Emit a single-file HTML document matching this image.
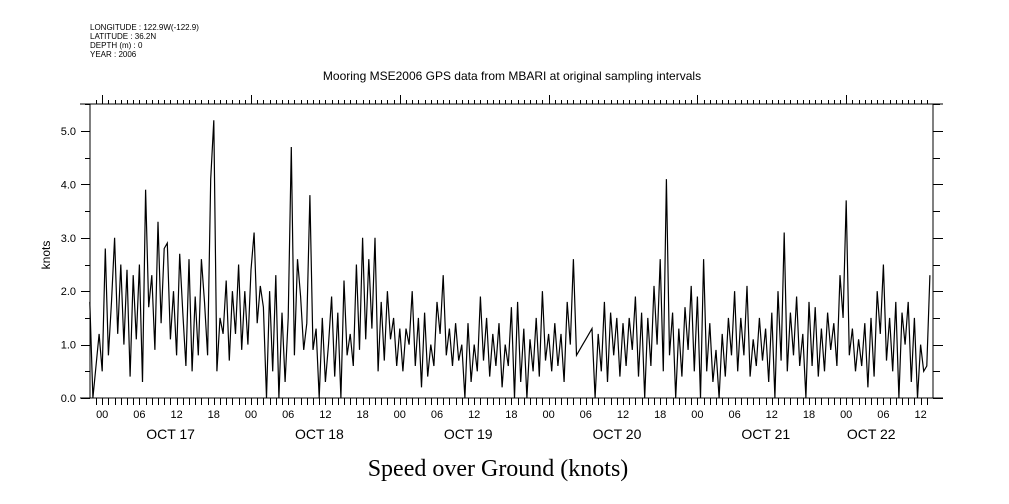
<!DOCTYPE html>
<html><head><meta charset="utf-8"><style>
body{margin:0;background:#fff;}
svg{display:block;font-family:"Liberation Sans",sans-serif;}
</style></head><body>
<svg id="chart" width="1009" height="504" viewBox="0 0 1009 504" xmlns="http://www.w3.org/2000/svg">
<rect width="1009" height="504" fill="#fff"/>
<g font-size="8" fill="#000">
<text x="90" y="30">LONGITUDE : 122.9W(-122.9)</text>
<text x="90" y="39">LATITUDE : 36.2N</text>
<text x="90" y="48">DEPTH (m) : 0</text>
<text x="90" y="57">YEAR : 2006</text>
</g>
<text x="512" y="80" font-size="12" text-anchor="middle">Mooring MSE2006 GPS data from MBARI at original sampling intervals</text>
<text x="498" y="476" font-size="24" text-anchor="middle" font-family="Liberation Serif, serif">Speed over Ground (knots)</text>
<text transform="translate(50,255) rotate(-90)" font-size="12" text-anchor="middle">knots</text>
<g id="axes"></g>
<g id="marks"></g>
</svg>
<script>
const startHour = -2;
const stepHours = 0.5;
const speedValues = [
1.8,0,0.6,1.2,
0.5,2.8,0.8,1.8,3.0,1.2,2.5,1.0,2.4,0.4,2.3,1.1,
2.5,0.3,3.9,1.7,2.3,0.9,3.3,1.4,2.8,2.9,1.1,2.0,
0.8,2.7,1.6,0.6,2.6,0.5,1.9,0.8,2.6,1.8,0.8,4.1,
5.2,0.5,1.5,1.2,2.2,0.7,2.0,1.2,2.5,0.9,2.0,1.0,
2.4,3.1,1.4,2.1,1.7,0.0,2.0,0.5,2.3,0.0,1.6,0.3,
1.5,4.7,0.8,2.6,1.9,0.9,1.4,3.8,0.9,1.3,0.0,1.5,
0.3,1.0,1.9,0.4,1.6,0.0,2.2,0.8,1.2,0.6,2.5,0.9,
3.0,1.1,2.6,1.3,3.0,0.5,1.8,0.7,2.0,1.1,1.5,0.6,
1.3,0.5,1.3,1.0,2.0,0.6,1.5,0.2,1.6,0.4,1.0,0.6,
1.8,1.2,2.3,0.8,1.3,0.6,1.4,0.7,1.0,0.0,1.4,0.3,
1.0,0.5,1.9,0.7,1.5,0.4,1.2,0.6,1.4,0.2,1.0,0.6,
1.7,0.0,1.8,0.3,1.3,0.0,1.1,0.5,1.5,0.4,2.0,0.7,
1.2,0.5,1.4,0.6,1.2,0.3,1.8,1.0,2.6,0.8,0.9,1.0,
1.1,1.2,1.3,0.0,1.2,0.5,1.8,0.3,1.6,0.8,1.5,0.4,
1.4,0.6,1.5,0.9,1.9,0.4,1.6,0.0,1.5,0.6,2.1,1.0,
2.6,0.5,4.1,0.8,1.6,0.0,1.3,0.4,1.7,0.9,2.1,0.5,
1.9,0.0,2.6,0.5,1.4,0.3,0.9,0.0,1.2,0.4,1.5,0.8,
2.0,0.5,1.5,0.8,2.1,0.4,1.1,0.6,1.5,0.7,1.3,0.3,
1.6,0.0,2.0,0.7,3.1,0.5,1.6,0.8,1.9,0.6,1.2,0.0,
1.8,0.6,1.7,0.4,1.3,0.5,1.6,0.9,1.4,0.6,2.3,1.5,
3.7,0.8,1.3,0.5,1.1,0.6,1.4,0.2,1.5,0.4,2.0,1.2,
2.5,0.7,1.5,0.5,1.8,0.0,1.6,1.0,1.8,0.3,1.5,0.0,
1.0,0.5,0.6,2.3
];
const yTickLabels = ["0.0","1.0","2.0","3.0","4.0","5.0"];
const yTickValues = [0,1,2,3,4,5];
const dayLabels = ["OCT 17","OCT 18","OCT 19","OCT 20","OCT 21","OCT 22"];
const dayLabelHours = [12,36,60,84,108,125];
const hourLabels = ["00","06","12","18"];

const NS = "http://www.w3.org/2000/svg";
const L = 90, R = 933, T = 104, B = 398;
function xScale(h){ return 102.2 + h * 6.2; }
function yScale(v){ return 398 - v * 53.4; }
const axes = document.getElementById('axes');
const marks = document.getElementById('marks');
function line(parent, x1, y1, x2, y2, name){
  const l = document.createElementNS(NS, 'line');
  l.setAttribute('x1', x1); l.setAttribute('y1', y1);
  l.setAttribute('x2', x2); l.setAttribute('y2', y2);
  l.setAttribute('stroke', '#000'); l.setAttribute('stroke-width', '1');
  l.setAttribute('shape-rendering', 'crispEdges');
  
  
  parent.appendChild(l); return l;
}
function text(parent, x, y, s, size, anchor, name){
  const t = document.createElementNS(NS, 'text');
  t.setAttribute('x', x); t.setAttribute('y', y);
  t.setAttribute('font-size', size); t.setAttribute('text-anchor', anchor);
  t.textContent = s;
  
  
  parent.appendChild(t); return t;
}
line(axes, L, T, L, B, 'y-axis-left');
line(axes, R, T, R, B, 'y-axis-right');
line(axes, 80, T, 943, T, 'x-axis-top');
line(axes, 80, B, 943, B, 'x-axis-bottom');
for (let v = 0; v <= 5.5; v += 0.5) {
  const y = Math.round(yScale(v)) + 0.5;
  const major = Math.abs(v - Math.round(v)) < 0.01;
  line(axes, major ? 81 : 85, y, L, y, 'y-tick-left');
  line(axes, R, y, major ? 943 : 940, y, 'y-tick-right');
}
yTickValues.forEach((v, i) => {
  text(axes, 76, yScale(v) + 4, yTickLabels[i], 11, 'end', 'y-tick-label');
});
for (let h = -1; xScale(h) < R; h++) {
  const x = Math.round(xScale(h)) + 0.5;
  if (x <= L) continue;
  line(axes, x, B, x, 405, 'x-tick-bottom');
  const day = ((h % 24) + 24) % 24 === 0;
  line(axes, x, T, x, day ? 95 : 100, 'x-tick-top');
  if (h % 6 === 0) {
    text(axes, xScale(h), 418, hourLabels[((h / 6) % 4 + 4) % 4], 11, 'middle', 'x-hour-label');
  }
}
dayLabels.forEach((d, i) => {
  text(axes, xScale(dayLabelHours[i]) - 6, 439, d, 14, 'middle', 'x-day-label');
});
let pts = [];
speedValues.forEach((v, i) => {
  const h = startHour + i * stepHours;
  pts.push(xScale(h).toFixed(1) + ',' + yScale(v).toFixed(1));
});
const pl = document.createElementNS(NS, 'polyline');
pl.setAttribute('points', pts.join(' '));
pl.setAttribute('fill', 'none');
pl.setAttribute('stroke', '#000');
pl.setAttribute('stroke-width', '1.2');


marks.appendChild(pl);
</script>
</body></html>
